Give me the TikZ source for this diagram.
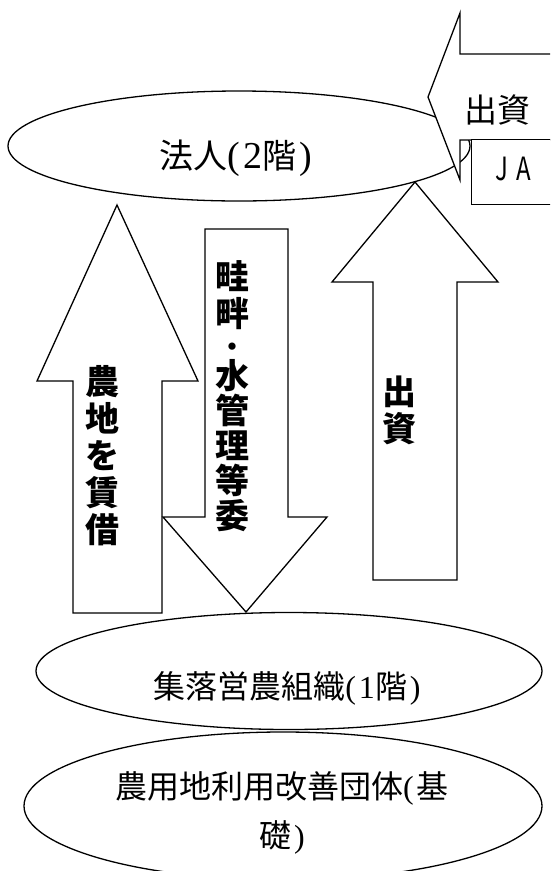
\documentclass[tikz,border=0pt]{standalone}
\usepackage{fontspec}
\usepackage{graphicx}
\usetikzlibrary{shapes.geometric}
\newfontfamily\jp{Noto Sans CJK JP}
\newfontfamily\lat{Liberation Serif}
\newcommand\jfs[2]{\fontsize{#1}{#2}\selectfont}
\newcommand\lp{{\lat (}\hspace{3pt}}
\newcommand\rp{\hspace{3pt}{\lat )}}
\begin{document}
\begin{tikzpicture}[x=1pt,y=-1pt,line width=1.3pt,line join=miter,
  shapeline/.style={draw=black,fill=white,line width=1.3pt},
  oval/.style={draw,ellipse,inner sep=0pt,line width=1.3pt},
  lbl/.style={inner sep=0pt,anchor=center},
  vlbl/.style={inner sep=0pt,align=center,font=\jp\bfseries\jfs{34}{37}}]
\useasboundingbox (0,0) rectangle (550,871);
\clip (0,0) rectangle (550,871);
% ovals
\node[oval,minimum width=462pt,minimum height=110pt] (corp) at (239,146) {};
\node[oval,minimum width=518pt,minimum height=148pt] (base) at (283,806) {};
\node[oval,minimum width=506pt,minimum height=117pt] (farm) at (289,671) {};
\node[lbl] (corpT) at (236,158) {\jfs{34}{34}{\jp 法人}{\jfs{38}{38}\lp{\lat 2}}{\jp 階}{\jfs{38}{38}\rp}};
\node[lbl] (farmT) at (287,688) {\jfs{32}{32}{\jp 集落営農組織}\lp{\lat 1}{\jp 階}\rp};
\node[lbl,align=center,font=\jfs{32}{49}] (baseT) at (282,813) {{\jp 農用地利用改善団体}\lp{\jp 基}\\{\jp 礎}\rp};
% top-right arrow pointing left and JA box
\draw[shapeline] (428,97) -- (460,13) -- (460,54) -- (560,54) -- (560,140) -- (460,140) -- (460,180) -- cycle;
\node[lbl] (invT) at (497,110) {\jp\jfs{33}{33}出資};
\node[draw,fill=white,line width=1.3pt,minimum width=100pt,minimum height=65pt,anchor=north west,inner sep=0pt] (ja) at (471,139) {};
\node[lbl] (jaT) at (513,169) {\jp\jfs{32}{32}\scalebox{0.75}[1]{J\hspace{11pt}A}};
% left up arrow
\draw[shapeline] (117,205) -- (198,381) -- (162,381) -- (162,613) -- (73,613) -- (73,381) -- (37,381) -- cycle;
\node[vlbl] (leaseT) at (102,456) {農\\地\\を\\賃\\借};
% middle down arrow
\draw[shapeline] (205,229) -- (288,229) -- (288,517) -- (327,517) -- (246,612) -- (163,517) -- (205,517) -- cycle;
\node[vlbl] (dutyT1) at (232,295) {畦\\畔};
\node[vlbl,font=\jp\bfseries\jfs{26}{26}] (dutyT2) at (232,350) {・};
\node[vlbl,font=\jp\bfseries\jfs{34}{35}] (dutyT3) at (232,446) {水\\管\\理\\等\\委};
% right up arrow
\draw[shapeline] (415,182) -- (498,282) -- (457,282) -- (457,580) -- (373,580) -- (373,282) -- (332,282) -- cycle;
\node[vlbl] (capT) at (399,410) {出\\資};
\end{tikzpicture}
\end{document}
